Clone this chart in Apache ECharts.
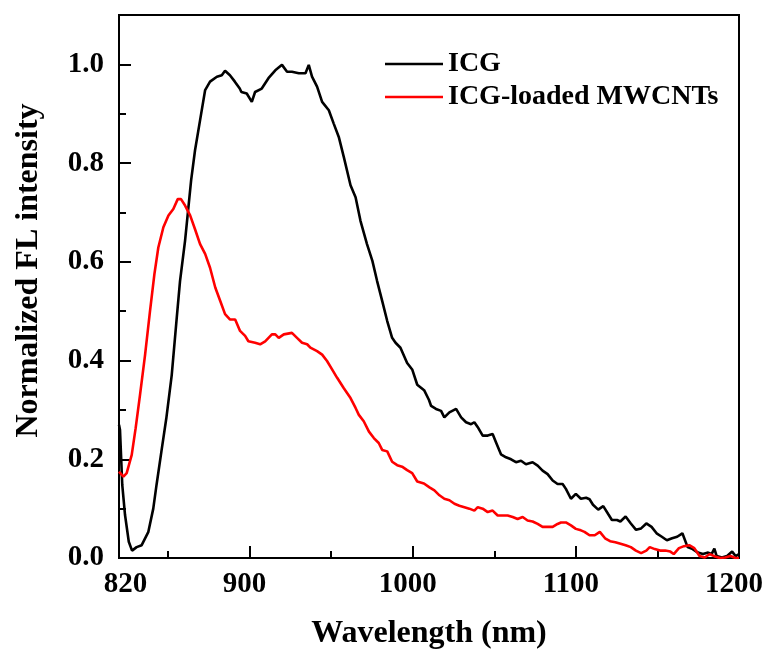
<!DOCTYPE html>
<html>
<head>
<meta charset="utf-8">
<script src="https://cdn.jsdelivr.net/npm/echarts@6/dist/echarts.min.js"></script>
<style>
html,body{margin:0;padding:0;background:#fff;}
#chart{width:768px;height:655px;}
</style>
</head>
<body>
<div id="chart"></div>
<script>
// ICG (black)
var icgX = [820,820.6,822,823.7,826,828,830.8,833.9,838,841,843,846,849,852.3,855.4,857.4,860.5,864.2,866.6,869.7,872.8,875.8,880,883,885,888,891,894,895,898.3,901.4,903.4,907.5,911.6,915.8,919.9,923,926,930.2,934.3,936.3,938.3,941.4,944.5,948.6,951.6,954.7,957.8,961.9,965,968,972,975.3,978.2,981.3,984.4,987.4,989.5,992.5,996.6,999.7,1002.8,1007,1010,1011.3,1014.3,1017.4,1019.4,1022.5,1026.6,1029.7,1032.7,1035.8,1037.8,1039.9,1042.9,1046,1049,1051.1,1054.1,1057.2,1060.3,1063.3,1066.4,1069.4,1073.5,1076.6,1079.6,1082.7,1085.8,1088.8,1091.9,1093.9,1097,1100,1103.1,1106.3,1108.4,1110.5,1113.7,1116.8,1120,1122.1,1125.2,1127.3,1130.5,1133.7,1136.9,1140,1143.2,1146.4,1149.5,1152.7,1155.8,1159,1162.1,1165.3,1168.5,1171.6,1174.8,1177.9,1181.1,1183.2,1184.9,1186.3,1189.5,1192.7,1195.8,1197.9,1200];
var icgY = [0.27,0.26,0.148,0.087,0.033,0.015,0.022,0.026,0.053,0.10,0.148,0.216,0.283,0.37,0.487,0.561,0.643,0.765,0.826,0.887,0.948,0.965,0.975,0.978,0.987,0.978,0.965,0.951,0.944,0.941,0.924,0.944,0.951,0.972,0.988,0.999,0.985,0.985,0.982,0.982,0.999,0.975,0.955,0.924,0.907,0.88,0.853,0.812,0.755,0.731,0.683,0.636,0.602,0.561,0.521,0.48,0.446,0.436,0.426,0.395,0.382,0.351,0.34,0.32,0.308,0.302,0.298,0.285,0.295,0.302,0.285,0.275,0.271,0.275,0.265,0.248,0.248,0.251,0.234,0.21,0.204,0.2,0.194,0.197,0.19,0.194,0.187,0.177,0.17,0.157,0.15,0.15,0.14,0.12,0.13,0.12,0.122,0.119,0.108,0.098,0.105,0.088,0.077,0.077,0.074,0.084,0.07,0.057,0.06,0.07,0.063,0.05,0.043,0.036,0.04,0.043,0.05,0.022,0.018,0.011,0.008,0.011,0.008,0.019,0.004,0.001,0.004,0.013,0.004,0.008];
// ICG-loaded MWCNTs (red)
var mwX = [820,820.6,822.7,824.7,827.8,830.2,832.9,836,839,841.7,844.1,847.2,850.3,853.3,856,858,860.5,863.6,866.6,869.7,872.8,875.8,879,882,885,888.1,891.2,894.2,897.3,899.3,903.4,906.5,909.6,913.7,915.8,917.9,921,926,929.1,932.2,935.3,937.3,941.4,944.5,947.5,950.6,953.7,957.8,961.9,965,967,970,973.2,976.2,979.2,981.3,984.4,987.4,990.5,993.5,996.6,999.7,1002.8,1006.9,1010.3,1013.3,1016.4,1019.4,1022.5,1025.6,1028.6,1031.7,1034.7,1037.8,1039.9,1042.9,1046,1049,1052.1,1055.1,1058.2,1061.3,1064.3,1067.4,1070.4,1073.5,1076.6,1079.6,1082.7,1085.8,1088.8,1090.9,1093.9,1097,1100,1103.1,1105.3,1108.4,1111.6,1114.7,1117.9,1121,1124.2,1127.4,1130.5,1133.7,1136.8,1140,1143.2,1145.3,1148.4,1151.6,1154.8,1157.9,1160,1163.2,1166.3,1169.5,1172.6,1175.8,1179,1182.1,1185.3,1188.4,1191.6,1194.7,1197.9,1200];
var mwY = [0.175,0.172,0.165,0.172,0.209,0.263,0.331,0.412,0.5,0.575,0.629,0.67,0.694,0.707,0.727,0.727,0.714,0.694,0.666,0.636,0.616,0.588,0.548,0.521,0.494,0.483,0.483,0.46,0.45,0.439,0.436,0.433,0.439,0.453,0.453,0.446,0.453,0.456,0.446,0.436,0.433,0.426,0.419,0.412,0.399,0.382,0.365,0.344,0.324,0.304,0.29,0.277,0.256,0.243,0.233,0.219,0.216,0.195,0.188,0.185,0.178,0.172,0.155,0.151,0.143,0.137,0.127,0.12,0.117,0.11,0.106,0.103,0.1,0.096,0.103,0.1,0.093,0.096,0.086,0.086,0.086,0.083,0.079,0.083,0.076,0.074,0.069,0.063,0.063,0.063,0.069,0.072,0.072,0.066,0.059,0.056,0.053,0.046,0.046,0.053,0.04,0.034,0.032,0.029,0.026,0.022,0.015,0.01,0.015,0.022,0.018,0.015,0.015,0.013,0.008,0.02,0.024,0.026,0.02,0.004,0.001,0.008,0.003,0,0.001,0.004,0,0];

var xMajor = [820, 900, 1000, 1100, 1200];
var xMinor = [850, 950, 1050, 1150];
var yMajor = [0, 0.2, 0.4, 0.6, 0.8, 1.0];
var yMinor = [0.1, 0.3, 0.5, 0.7, 0.9];
var seriesNames = ['ICG', 'ICG-loaded MWCNTs'];

function pairs(xs, ys){ return xs.map(function(x,i){ return [x, ys[i]]; }); }

var FONT = '"Liberation Serif", "Times New Roman", serif';
var lblStyle = { fontFamily: FONT, fontWeight: 'bold', fontSize: 29, color: '#000' };
var chart = echarts.init(document.getElementById('chart'));
chart.setOption({
  animation: false,
  backgroundColor: '#fff',
  textStyle: { fontFamily: FONT },
  grid: { left: 119, right: 29, top: 15, bottom: 96, show: true, borderColor: '#000', borderWidth: 2, backgroundColor: 'transparent' },
  legend: {
    orient: 'vertical', left: 380, top: 44, itemWidth: 58, itemHeight: 2.6, itemGap: 3, icon: 'rect',
    textStyle: { fontFamily: FONT, fontWeight: 'bold', fontSize: 28, color: '#000', lineHeight: 30 },
    data: seriesNames
  },
  xAxis: [{
    type: 'value', min: 820, max: 1200,
    name: 'Wavelength (nm)', nameLocation: 'middle', nameGap: 60,
    nameTextStyle: { fontFamily: FONT, fontWeight: 'bold', fontSize: 32, color: '#000' },
    axisLine: { lineStyle: { color: '#000', width: 2 } },
    axisTick: { inside: true, length: 12, customValues: xMajor, lineStyle: { color: '#000', width: 2 } },
    axisLabel: {
      customValues: xMajor, margin: 12, fontFamily: FONT, fontWeight: 'bold', fontSize: 29, color: '#000',
      formatter: function(v){ return v === 820 ? '{f|' + v + '}' : '{o|' + v + '}'; },
      rich: {
        f: Object.assign({ padding: [0, 0, 0, 13] }, lblStyle),
        o: Object.assign({ padding: [0, 10, 0, 0] }, lblStyle)
      }
    },
    splitLine: { show: false }
  }, {
    type: 'value', min: 820, max: 1200, position: 'bottom',
    axisLine: { show: false },
    axisTick: { inside: true, length: 7, customValues: xMinor, lineStyle: { color: '#000', width: 2 } },
    axisLabel: { show: false }, splitLine: { show: false }
  }],
  yAxis: [{
    type: 'value', min: 0, max: 1.1,
    name: 'Normalized FL intensity', nameLocation: 'middle', nameGap: 74,
    nameTextStyle: { fontFamily: FONT, fontWeight: 'bold', fontSize: 32, color: '#000', padding: [0, 0, 0, 32] },
    axisLine: { lineStyle: { color: '#000', width: 2 } },
    axisTick: { inside: true, length: 12, customValues: yMajor, lineStyle: { color: '#000', width: 2 } },
    axisLabel: { customValues: yMajor, margin: 15, fontFamily: FONT, fontWeight: 'bold', fontSize: 29, color: '#000',
      formatter: function(v){ return v.toFixed(1); } },
    splitLine: { show: false }
  }, {
    type: 'value', min: 0, max: 1.1, position: 'left',
    axisLine: { show: false },
    axisTick: { inside: true, length: 7, customValues: yMinor, lineStyle: { color: '#000', width: 2 } },
    axisLabel: { show: false }, splitLine: { show: false }
  }],
  series: [{
    name: seriesNames[0], type: 'line', symbol: 'none', data: pairs(icgX, icgY),
    lineStyle: { color: '#000', width: 2.6 }, itemStyle: { color: '#000' }
  }, {
    name: seriesNames[1], type: 'line', symbol: 'none', data: pairs(mwX, mwY),
    lineStyle: { color: '#ff0000', width: 2.6 }, itemStyle: { color: '#ff0000' }
  }]
});
</script>
</body>
</html>
